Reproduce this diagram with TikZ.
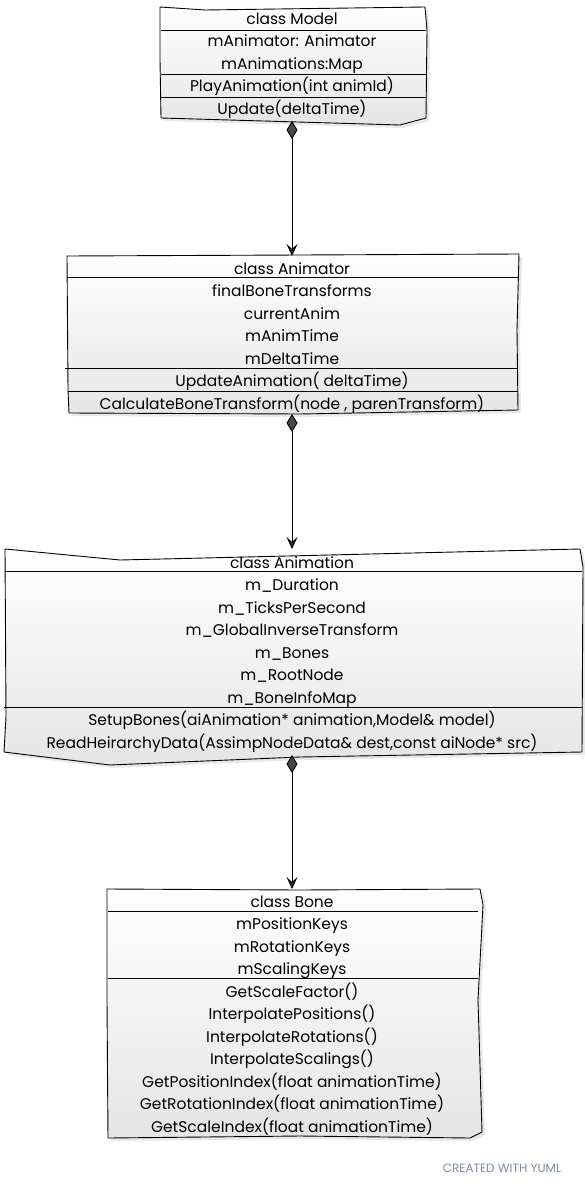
\documentclass[tikz,border=0pt]{standalone}
\usepackage{fontspec}
\setmainfont{Poppins}
\usepackage{tikz}
\usetikzlibrary{arrows.meta,shadows}

\definecolor{yumlgrey}{HTML}{7E8DA4}
\tikzset{
  classbox/.style={draw=black,line width=0.9pt,line join=round,top color=white,bottom color=black!10,
    drop shadow={opacity=0.18,shadow xshift=3pt,shadow yshift=-3pt}},
  sepline/.style={line width=0.9pt},
  member/.style={font=\fontsize{15.5}{18}\selectfont,inner sep=0pt,text height=12pt,text depth=0pt},
  comp/.style={line width=0.9pt,{Diamond[length=18pt,width=11pt,fill=black!72]}-{Stealth[length=12pt,width=11pt,inset=5pt,fill=black!80]}}
}

\begin{document}
\begin{tikzpicture}[x=1pt,y=-1pt]
\useasboundingbox(0,0)rectangle(585,1188);

% class Model
\draw[classbox](160,7)--(205,10)--(425,7)--(427,30)--(426,118)--(400,125)--(161,118)--(160,60)--cycle;
\draw[sepline](161,30)--(426,30);
\draw[sepline](161,74)--(426,74);
\draw[sepline](161,97)--(426,97);
\node[member](mdl0)at(292,19){class Model};
\node[member](mdl1)at(292,41){mAnimator: Animator};
\node[member](mdl2)at(292,64){mAnimations:Map};
\node[member](mdl3)at(292,86){PlayAnimation(int animId)};
\node[member](mdl4)at(292,109){Update(deltaTime)};

% class Animator
\draw[classbox](67,256)--(300,255)--(519,254)--(517,330)--(518,410)--(300,414)--(69,413)--(68,390)--cycle;
\draw[sepline](67,277)--(518,277);
\draw[sepline](65,368)--(518,368);
\draw[sepline](68,391)--(518,391);
\node[member](atr0)at(292,268){class Animator};
\node[member](atr1)at(292,290){finalBoneTransforms};
\node[member](atr2)at(292,313){currentAnim};
\node[member](atr3)at(292,335){mAnimTime};
\node[member](atr4)at(292,358){mDeltaTime};
\node[member](atr5)at(292,380){UpdateAnimation( deltaTime)};
\node[member](atr6)at(292,403){CalculateBoneTransform(node , parenTransform)};

% class Animation
\draw[classbox](5,549)--(120,560)--(580,549)--(583,567)--(582,752)--(300,757)--(110,765)--(4,752)--(6,717)--cycle;
\draw[sepline](5,571)--(582,571);
\draw[sepline](4,707)--(582,707);
\node[member](ani0)at(292,562){class Animation};
\node[member](ani1)at(292,584){m\_Duration};
\node[member](ani2)at(292,607){m\_TicksPerSecond};
\node[member](ani3)at(292,629){m\_GlobalInverseTransform};
\node[member](ani4)at(292,652){m\_Bones};
\node[member](ani5)at(292,674){m\_RootNode};
\node[member](ani6)at(292,697){m\_BoneInfoMap};
\node[member](ani7)at(292,719){SetupBones(aiAnimation* animation,Model\& model)};
\node[member](ani8)at(292,742){ReadHeirarchyData(AssimpNodeData\& dest,const aiNode* src)};

% class Bone
\draw[classbox](107,889)--(300,890)--(480,889)--(483,905)--(478,1000)--(482,1132)--(470,1138)--(300,1136)--(108,1138)--(107,1000)--cycle;
\draw[sepline](108,911)--(478,911);
\draw[sepline](108,978)--(478,978);
\node[member](bon0)at(292,901){class Bone};
\node[member](bon1)at(292,923){mPositionKeys};
\node[member](bon2)at(292,946){mRotationKeys};
\node[member](bon3)at(292,968){mScalingKeys};
\node[member](bon4)at(292,991){GetScaleFactor()};
\node[member](bon5)at(292,1013){InterpolatePositions()};
\node[member](bon6)at(292,1036){InterpolateRotations()};
\node[member](bon7)at(292,1058){InterpolateScalings()};
\node[member](bon8)at(292,1081){GetPositionIndex(float animationTime)};
\node[member](bon9)at(292,1103){GetRotationIndex(float animationTime)};
\node[member](bon10)at(292,1126){GetScaleIndex(float animationTime)};

% composition links
\coordinate(mdlS)at(292,121);
\coordinate(atrN)at(292,256);
\coordinate(atrS)at(292,414);
\coordinate(aniN)at(292,549);
\coordinate(aniS)at(292,755);
\coordinate(bonN)at(292,889);
\draw[comp](mdlS)--(atrN);
\draw[comp](atrS)--(aniN);
\draw[comp](aniS)--(bonN);

\node[font=\fontsize{12}{14}\selectfont,text=yumlgrey](credit)at(502,1168){CREATED WITH YUML};
\end{tikzpicture}
\end{document}
